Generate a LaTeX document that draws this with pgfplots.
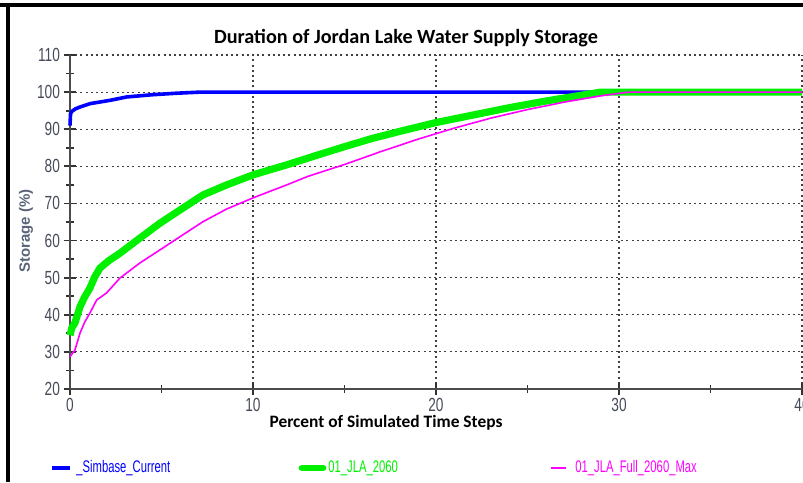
\documentclass[border=0pt]{standalone}
\usepackage{fontspec}
\setmainfont{Liberation Sans}
\newfontfamily\titlefont{Carlito}
\newfontfamily\narrow[FakeStretch=0.72]{Liberation Sans}
\newfontfamily\legfont[FakeStretch=0.67]{Liberation Sans}
\usepackage{pgfplots}
\pgfplotsset{compat=1.18}

\definecolor{tickgray}{RGB}{70,75,90}
\definecolor{labgray}{RGB}{90,100,120}
\definecolor{simblue}{RGB}{0,0,255}
\definecolor{jlagreen}{RGB}{0,240,0}
\definecolor{jlamag}{RGB}{255,0,255}

\begin{document}
\begin{tikzpicture}
  \begin{axis}
    [
    ,at={(35pt,-194.5pt)}
    ,anchor=south west
    ,scale only axis
    ,width=366pt
    ,height=167pt
    ,axis x line*=bottom
    ,axis y line*=left
    ,axis line style={black!70,line width=1pt}
    ,xmin=0, xmax=40
    ,ymin=20, ymax=110
    ,xtick={0,10,20,30,40}
    ,ytick={20,30,...,110}
    ,minor xtick={5,15,25,35}
    ,minor ytick={25,35,...,105}
    ,tick align=center
    ,major tick length=6pt
    ,minor tick length=4pt
    ,every tick/.style={black!80,line width=0.9pt}
    ,grid=major
    ,major grid style={black!75,line width=0.6pt,dash pattern=on 1pt off 1.6pt}
    ,/pgf/number format/assume math mode=true
    ,tick label style={font=\fontsize{9.5}{10}\selectfont\narrow,text=tickgray}
    ,xticklabel style={yshift=2pt}
    ,yticklabel style={xshift=1.5pt}
    ,clip=false
    ]
    \addplot[simblue,line width=1.8pt] coordinates {
      (0,91) (0.03,94.2) (0.1,94.8) (0.3,95.5) (0.55,96.0) (1.1,96.9)
      (2.2,97.8) (3.1,98.7) (4.5,99.3) (5.8,99.7) (7.1,100) (40,100)
    };
    \addplot[jlagreen,line width=3.6pt] coordinates {
      (0,34.5) (0.1,36.5) (0.27,37.8) (0.55,42.2) (0.8,44.8) (1.09,47.2) (1.35,50.2) (1.64,52.6)
      (2.1,54.5) (2.73,56.6) (3.83,60.7) (4.92,64.7) (6.0,68.2) (7.27,72.3) (8.56,75)
      (10,77.7) (11.84,80.4) (13.5,83) (15,85.3) (16.5,87.5) (18,89.4)
      (20,91.8) (22,93.8) (24,95.8) (26,97.6) (28,99.2) (29,100) (40,100)
    };
    \addplot[jlamag,line width=0.8pt] coordinates {
      (0,28.7) (0.27,30.5) (0.55,35.1) (0.8,38.0) (1.09,40.5) (1.46,44.0) (2.0,45.9)
      (2.73,49.9) (3.83,54.0) (4.92,57.5) (6.0,61.0) (7.27,65.1) (8.56,68.5)
      (10,71.5) (11.84,75) (13,77.3) (15,80.5) (17,84) (19,87.3) (21,90.3)
      (23,93) (25,95.3) (27,97.3) (29,99) (30.5,100) (40,100)
    };
  \end{axis}
  \begin{scope}[x=0.5pt,y=-0.5pt]
    % screenshot frame
    \draw[black,line width=1.6pt] (0,5) -- (803,5);
    \draw[black,line width=1.6pt] (8,5) -- (8,482);
    % titles
    \node[font=\fontsize{10.1}{12}\selectfont\titlefont\bfseries] at (406,38) {Duration of Jordan Lake Water Supply Storage};
    \node[font=\fontsize{8.7}{10}\selectfont\titlefont\bfseries] at (386,423) {Percent of Simulated Time Steps};
    \node[rotate=90,font=\fontsize{7.5}{9}\selectfont\bfseries,text=labgray] at (26,231) {Storage (\%)};
    % legend
    \draw[simblue,line width=1.8pt] (52,468) -- (70,468);
    \node[anchor=west,inner sep=0pt,text=simblue,font=\fontsize{8.4}{10}\selectfont\legfont] at (76,468) {\_Simbase\_Current};
    \draw[jlagreen,line width=3.4pt,line cap=round] (302,468) -- (323,468);
    \node[anchor=west,inner sep=0pt,text=jlagreen,font=\fontsize{8.4}{10}\selectfont\legfont] at (328,468) {01\_JLA\_2060};
    \draw[jlamag,line width=0.8pt] (551,468) -- (566,468);
    \node[anchor=west,inner sep=0pt,text=jlamag,font=\fontsize{8.4}{10}\selectfont\legfont] at (575,468) {01\_JLA\_Full\_2060\_Max};
  \end{scope}
  \pgfresetboundingbox
  \path (0,0) rectangle (401.5pt,-241pt);
\end{tikzpicture}
\end{document}
